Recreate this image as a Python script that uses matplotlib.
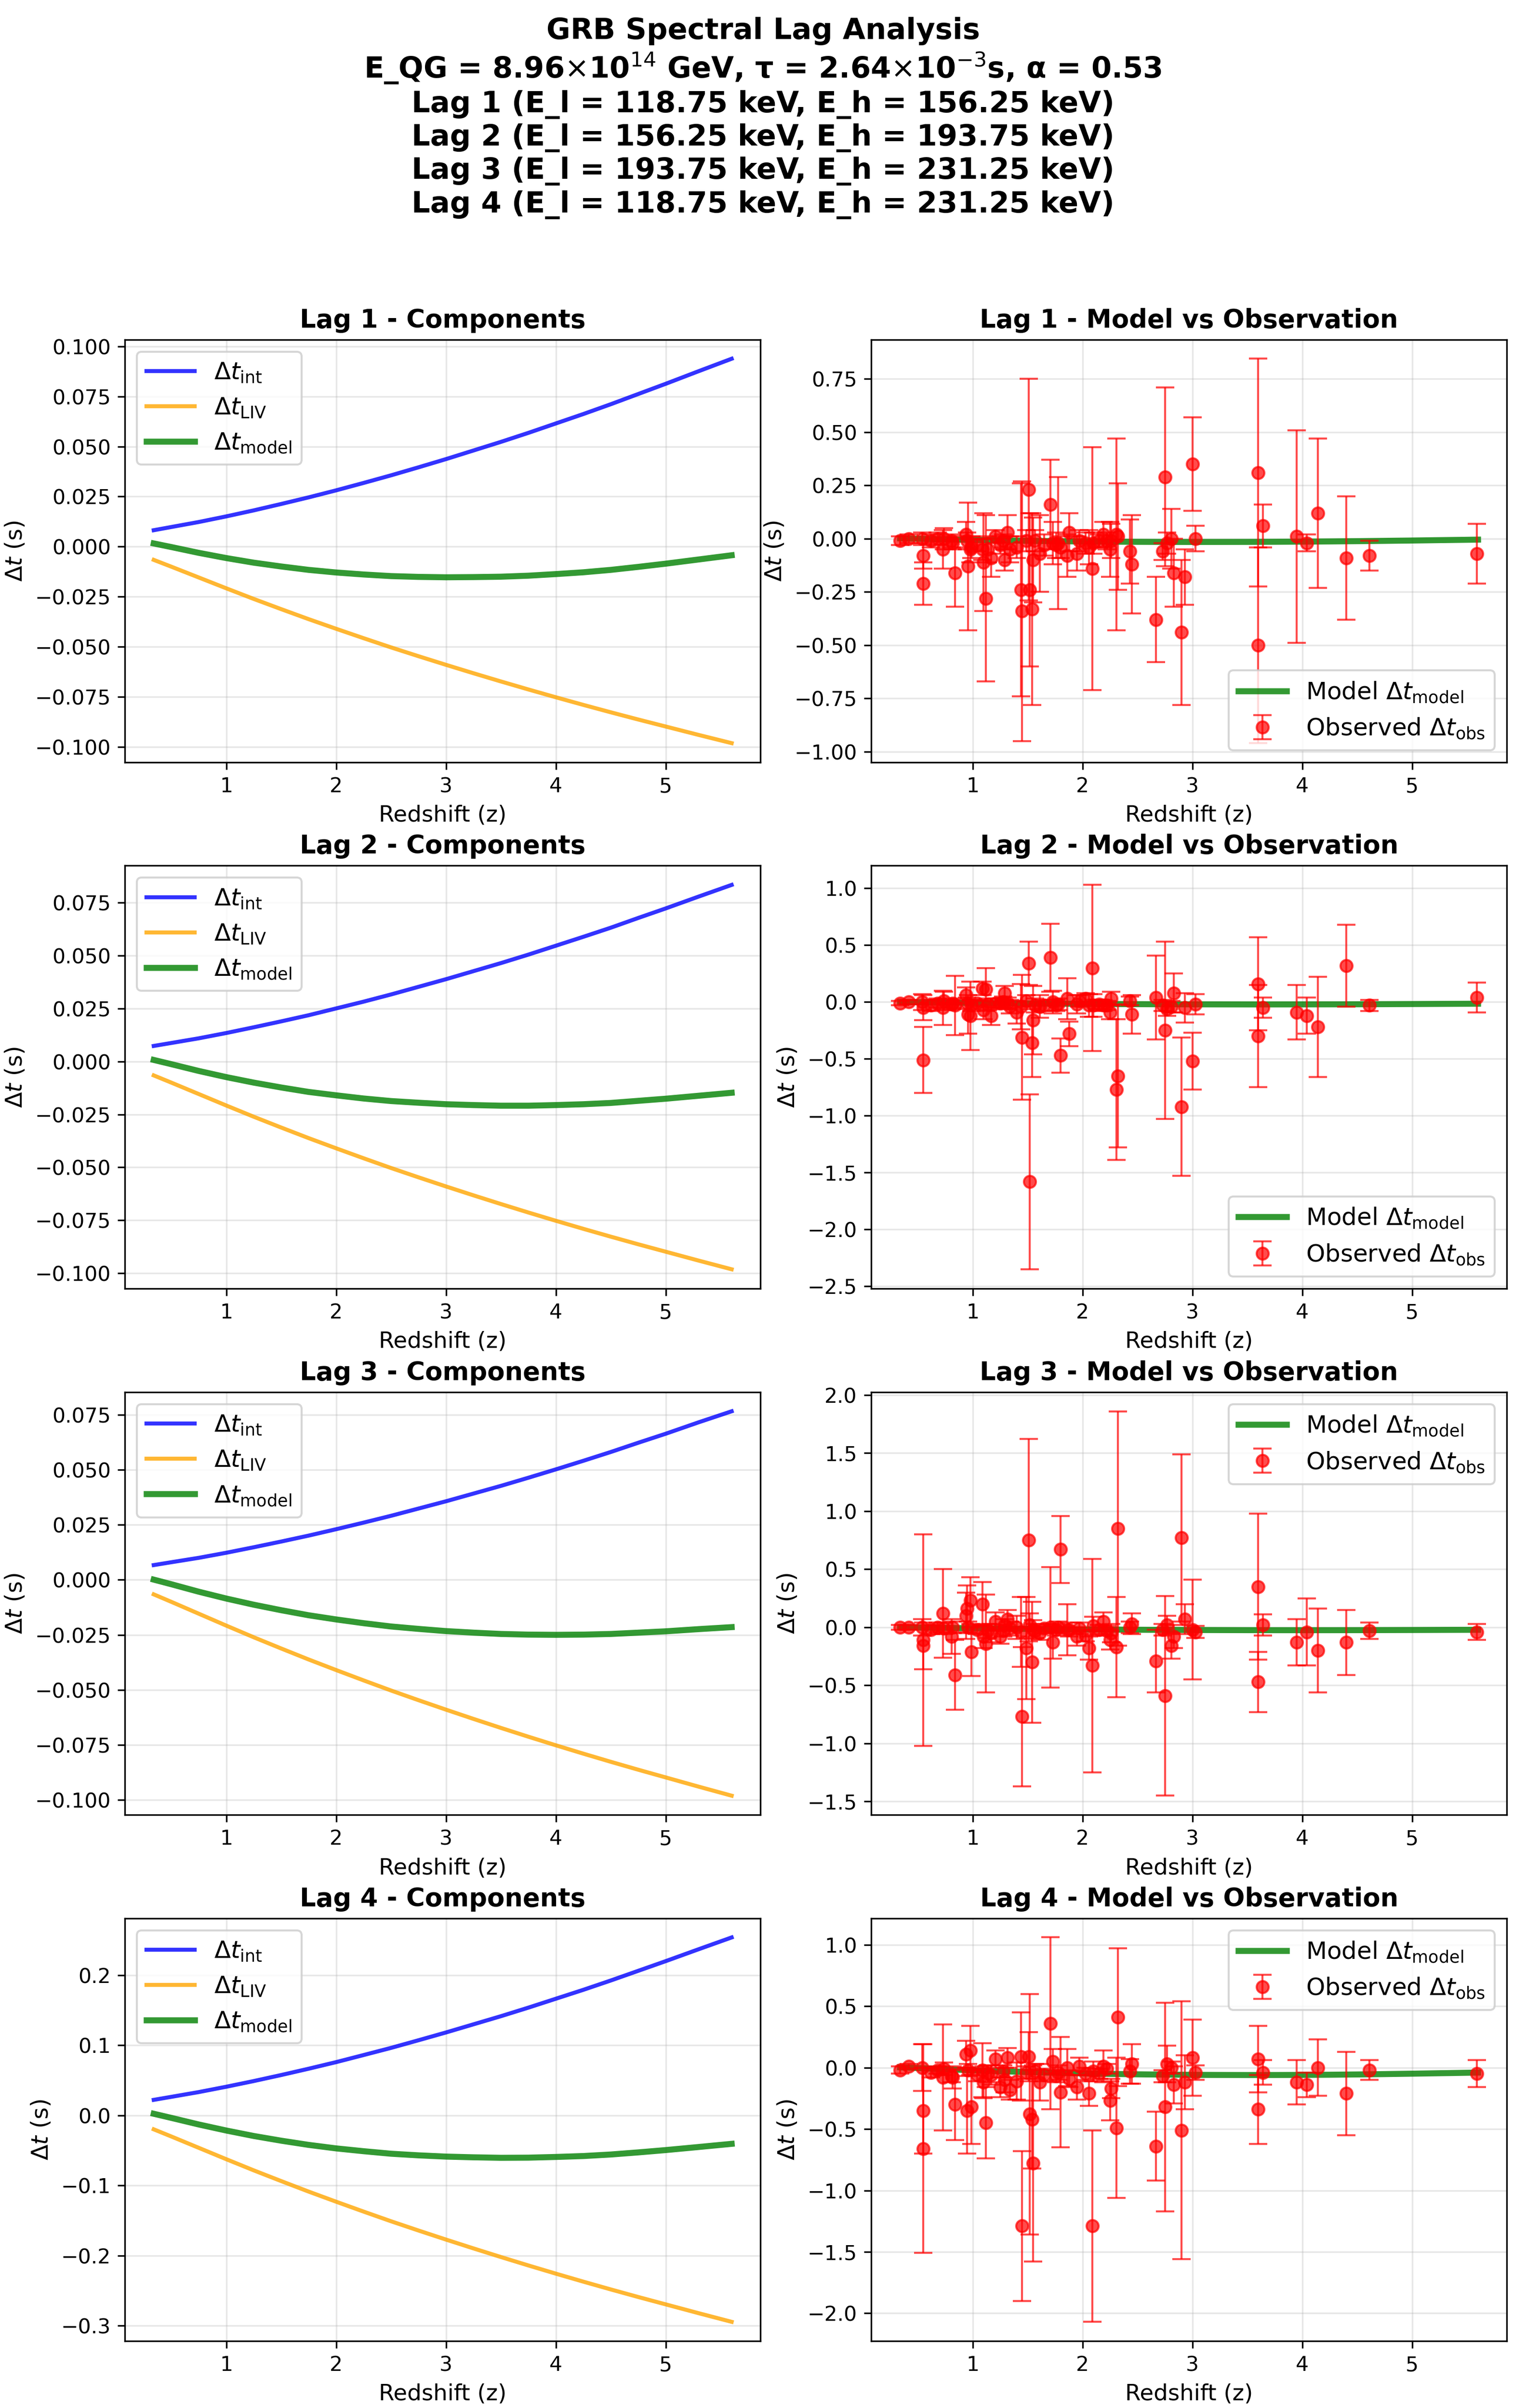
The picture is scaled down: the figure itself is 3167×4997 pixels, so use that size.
import matplotlib
matplotlib.use("Agg")
import matplotlib.pyplot as plt

# redshift grid used for the model curves
z_model = [0.34, 0.5, 0.75, 1.0, 1.25, 1.5, 1.75, 2.0, 2.25, 2.5, 2.75,
           3.0, 3.25, 3.5, 3.75, 4.0, 4.25, 4.5, 4.75, 5.0, 5.3, 5.6]

# intrinsic lag component per lag
int_lag1 = [0.0082, 0.0098, 0.0123, 0.0151, 0.0181, 0.0213, 0.0246, 0.0281, 0.0318, 0.0356, 0.0396,
            0.0437, 0.0480, 0.0523, 0.0568, 0.0615, 0.0662, 0.0711, 0.0762, 0.0813, 0.0876, 0.0938]
int_lag2 = [0.0073, 0.0087, 0.0109, 0.0134, 0.0161, 0.0189, 0.0218, 0.0250, 0.0282, 0.0316, 0.0352,
            0.0388, 0.0426, 0.0464, 0.0504, 0.0546, 0.0588, 0.0631, 0.0677, 0.0722, 0.0778, 0.0833]
int_lag3 = [0.0067, 0.0080, 0.0100, 0.0123, 0.0148, 0.0174, 0.0201, 0.0230, 0.0260, 0.0291, 0.0324,
            0.0357, 0.0392, 0.0427, 0.0464, 0.0502, 0.0541, 0.0581, 0.0623, 0.0664, 0.0716, 0.0766]
int_lag4 = [0.0222, 0.0265, 0.0333, 0.0409, 0.0490, 0.0576, 0.0666, 0.0760, 0.0861, 0.0963, 0.1072,
            0.1183, 0.1299, 0.1415, 0.1537, 0.1664, 0.1791, 0.1924, 0.2062, 0.2200, 0.2370, 0.2538]

# LIV component per lag (lags 1-3 share the same energy width)
liv_lag1 = [-0.0066, -0.0100, -0.0154, -0.0208, -0.0261, -0.0312, -0.0362, -0.0410, -0.0457, -0.0503, -0.0547,
            -0.0590, -0.0632, -0.0673, -0.0713, -0.0752, -0.0790, -0.0827, -0.0863, -0.0898, -0.0940, -0.0981]
liv_lag2 = [-0.0066, -0.0100, -0.0154, -0.0208, -0.0261, -0.0312, -0.0362, -0.0410, -0.0457, -0.0503, -0.0547,
            -0.0590, -0.0632, -0.0673, -0.0713, -0.0752, -0.0790, -0.0827, -0.0863, -0.0898, -0.0940, -0.0981]
liv_lag3 = [-0.0066, -0.0100, -0.0154, -0.0208, -0.0261, -0.0312, -0.0362, -0.0410, -0.0457, -0.0503, -0.0547,
            -0.0590, -0.0632, -0.0673, -0.0713, -0.0752, -0.0790, -0.0827, -0.0863, -0.0898, -0.0940, -0.0981]
liv_lag4 = [-0.0198, -0.0300, -0.0462, -0.0624, -0.0783, -0.0936, -0.1086, -0.1230, -0.1371, -0.1509, -0.1641,
            -0.1770, -0.1896, -0.2019, -0.2139, -0.2256, -0.2370, -0.2481, -0.2589, -0.2694, -0.2820, -0.2943]

# total model lag
model_lag1 = [0.0016, -0.0002, -0.0031, -0.0057, -0.0080, -0.0099, -0.0116, -0.0129, -0.0139, -0.0147, -0.0151,
              -0.0153, -0.0152, -0.0150, -0.0145, -0.0137, -0.0128, -0.0116, -0.0101, -0.0085, -0.0064, -0.0043]
model_lag2 = [0.0007, -0.0013, -0.0045, -0.0074, -0.0100, -0.0123, -0.0144, -0.0160, -0.0175, -0.0187, -0.0195,
              -0.0202, -0.0206, -0.0209, -0.0209, -0.0206, -0.0202, -0.0196, -0.0186, -0.0176, -0.0162, -0.0148]
model_lag3 = [0.0001, -0.0020, -0.0054, -0.0085, -0.0113, -0.0138, -0.0161, -0.0180, -0.0197, -0.0212, -0.0223,
              -0.0233, -0.0240, -0.0246, -0.0249, -0.0250, -0.0249, -0.0246, -0.0240, -0.0234, -0.0224, -0.0215]
model_lag4 = [0.0024, -0.0035, -0.0129, -0.0215, -0.0293, -0.0360, -0.0420, -0.0470, -0.0510, -0.0546, -0.0569,
              -0.0587, -0.0597, -0.0604, -0.0602, -0.0592, -0.0579, -0.0557, -0.0527, -0.0494, -0.0450, -0.0405]

# GRB redshifts (shared by all lags)
z_obs = [0.34, 0.42, 0.54, 0.55, 0.55, 0.62, 0.68, 0.73, 0.74, 0.81,
         0.82, 0.84, 0.94, 0.95, 0.96, 0.98, 0.99, 1.04, 1.09, 1.10,
         1.12, 1.14, 1.17, 1.21, 1.25, 1.28, 1.29, 1.32, 1.34, 1.40,
         1.44, 1.45, 1.49, 1.51, 1.52, 1.54, 1.55, 1.57, 1.61, 1.65,
         1.71, 1.73, 1.76, 1.78, 1.80, 1.86, 1.88, 1.95, 1.97, 2.03,
         2.06, 2.09, 2.10, 2.15, 2.19, 2.22, 2.25, 2.26, 2.31, 2.32,
         2.43, 2.45, 2.67, 2.73, 2.75, 2.77, 2.81, 2.83, 2.90, 2.93,
         3.00, 3.03, 3.60, 3.60, 3.64, 3.95, 4.04, 4.14, 4.40, 4.61, 5.59]

obs_lag1 = [-0.01, 0.00, 0.00, -0.08, -0.21, -0.01, 0.00, -0.05, 0.00, -0.01,
            -0.02, -0.16, 0.02, -0.01, -0.13, -0.05, -0.04, -0.03, -0.05, -0.11,
            -0.28, -0.05, -0.09, 0.01, -0.03, -0.01, -0.10, 0.03, -0.05, -0.04,
            -0.24, -0.34, -0.01, 0.23, -0.24, -0.33, -0.10, -0.01, -0.07, -0.03,
            0.16, -0.02, -0.03, -0.02, -0.04, -0.08, 0.03, -0.07, -0.01, -0.02,
            -0.04, -0.14, -0.02, -0.01, 0.02, -0.01, -0.05, -0.01, 0.02, 0.01,
            -0.06, -0.12, -0.38, -0.06, 0.29, -0.02, 0.00, -0.16, -0.44, -0.18,
            0.35, 0.00, 0.31, -0.50, 0.06, 0.01, -0.02, 0.12, -0.09, -0.08, -0.07]
err_lag1 = [0.02, 0.02, 0.03, 0.06, 0.10, 0.03, 0.03, 0.09, 0.05, 0.03,
            0.03, 0.16, 0.06, 0.04, 0.30, 0.06, 0.05, 0.03, 0.05, 0.23,
            0.39, 0.06, 0.09, 0.03, 0.04, 0.03, 0.05, 0.08, 0.06, 0.05,
            0.50, 0.61, 0.05, 0.52, 0.36, 0.45, 0.20, 0.05, 0.18, 0.05,
            0.21, 0.10, 0.06, 0.31, 0.05, 0.10, 0.09, 0.08, 0.05, 0.05,
            0.08, 0.57, 0.05, 0.03, 0.06, 0.04, 0.13, 0.08, 0.45, 0.25,
            0.15, 0.23, 0.20, 0.04, 0.42, 0.05, 0.14, 0.16, 0.34, 0.13,
            0.22, 0.06, 0.535, 0.46, 0.10, 0.50, 0.04, 0.35, 0.29, 0.07, 0.14]

obs_lag2 = [-0.01, 0.00, 0.00, -0.05, -0.51, -0.03, -0.01, -0.05, 0.01, -0.02,
            -0.01, -0.03, 0.06, -0.01, -0.11, -0.12, -0.03, -0.01, 0.12, -0.07,
            0.11, -0.02, -0.12, -0.01, -0.01, 0.00, 0.08, -0.01, -0.04, -0.09,
            -0.04, -0.31, 0.01, 0.34, -1.58, -0.36, -0.16, -0.03, -0.04, -0.03,
            0.39, 0.00, -0.03, -0.02, -0.47, 0.03, -0.28, -0.02, 0.01, 0.03,
            -0.03, 0.30, -0.03, -0.02, -0.03, -0.03, -0.09, 0.03, -0.77, -0.65,
            0.01, -0.11, 0.04, -0.03, -0.25, -0.06, -0.04, 0.08, -0.92, -0.05,
            -0.52, -0.02, 0.16, -0.30, -0.05, -0.09, -0.12, -0.22, 0.32, -0.03, 0.04]
err_lag2 = [0.02, 0.02, 0.07, 0.11, 0.29, 0.05, 0.04, 0.15, 0.08, 0.04,
            0.04, 0.26, 0.07, 0.05, 0.17, 0.30, 0.05, 0.03, 0.06, 0.08,
            0.19, 0.05, 0.08, 0.04, 0.04, 0.05, 0.06, 0.05, 0.06, 0.10,
            0.20, 0.55, 0.05, 0.19, 0.77, 0.30, 0.30, 0.06, 0.10, 0.05,
            0.30, 0.10, 0.05, 0.05, 0.15, 0.18, 0.11, 0.08, 0.05, 0.05,
            0.10, 0.73, 0.10, 0.04, 0.05, 0.04, 0.06, 0.06, 0.62, 0.63,
            0.04, 0.17, 0.37, 0.05, 0.78, 0.06, 0.05, 0.17, 0.61, 0.13,
            0.25, 0.09, 0.41, 0.45, 0.09, 0.24, 0.16, 0.44, 0.36, 0.05, 0.13]

obs_lag3 = [0.00, 0.00, 0.00, -0.11, -0.16, -0.02, 0.00, 0.12, -0.01, -0.08,
            0.00, -0.41, 0.10, 0.16, 0.00, 0.23, -0.21, -0.02, 0.20, -0.08,
            -0.14, -0.03, -0.05, 0.05, -0.08, -0.03, 0.02, 0.07, -0.01, 0.00,
            -0.04, -0.77, -0.18, 0.75, 0.02, -0.30, -0.02, -0.03, -0.05, -0.01,
            0.00, -0.13, -0.02, 0.00, 0.67, -0.02, -0.02, -0.08, -0.01, -0.07,
            -0.18, -0.33, 0.01, -0.02, 0.05, -0.03, -0.11, -0.05, -0.17, 0.85,
            0.00, 0.03, -0.29, -0.02, -0.59, 0.02, -0.16, -0.08, 0.77, 0.07,
            -0.02, -0.04, 0.35, -0.47, 0.02, -0.13, -0.04, -0.20, -0.13, -0.03, -0.04]
err_lag3 = [0.02, 0.02, 0.07, 0.91, 0.20, 0.04, 0.04, 0.38, 0.05, 0.15,
            0.05, 0.30, 0.20, 0.20, 0.05, 0.20, 0.21, 0.04, 0.19, 0.10,
            0.42, 0.06, 0.08, 0.08, 0.06, 0.05, 0.05, 0.08, 0.06, 0.10,
            0.30, 0.60, 0.44, 0.87, 0.10, 0.52, 0.08, 0.06, 0.06, 0.04,
            0.52, 0.14, 0.05, 0.05, 0.29, 0.22, 0.06, 0.08, 0.05, 0.05,
            0.10, 0.92, 0.08, 0.04, 0.08, 0.04, 0.08, 0.08, 0.43, 1.01,
            0.05, 0.09, 0.27, 0.05, 0.86, 0.08, 0.11, 0.10, 0.72, 0.13,
            0.43, 0.05, 0.63, 0.26, 0.09, 0.20, 0.29, 0.36, 0.28, 0.07, 0.07]

obs_lag4 = [-0.02, 0.01, 0.00, -0.35, -0.66, -0.04, -0.02, -0.08, -0.01, -0.07,
            -0.08, -0.30, 0.11, -0.35, -0.02, 0.14, -0.32, -0.06, -0.02, -0.12,
            -0.45, -0.05, -0.06, 0.07, -0.16, -0.03, -0.10, 0.08, -0.18, -0.11,
            0.09, -1.29, -0.04, 0.09, -0.38, -0.42, -0.78, -0.03, -0.12, -0.06,
            0.36, 0.05, -0.07, -0.04, -0.20, 0.00, -0.09, -0.16, 0.01, -0.05,
            -0.21, -1.29, -0.03, -0.05, 0.01, -0.01, -0.27, -0.17, -0.49, 0.41,
            -0.03, 0.03, -0.64, -0.07, -0.32, 0.03, 0.00, -0.14, -0.51, -0.12,
            0.08, -0.04, 0.07, -0.34, -0.04, -0.12, -0.14, 0.00, -0.21, -0.02, -0.05]
err_lag4 = [0.03, 0.02, 0.19, 0.35, 0.85, 0.04, 0.03, 0.43, 0.05, 0.05,
            0.09, 0.29, 0.11, 0.35, 0.05, 0.20, 0.30, 0.05, 0.22, 0.13,
            0.29, 0.07, 0.08, 0.07, 0.08, 0.05, 0.10, 0.08, 0.08, 0.15,
            0.36, 0.61, 0.05, 0.20, 0.98, 0.40, 0.80, 0.06, 0.15, 0.05,
            0.70, 0.10, 0.05, 0.06, 0.45, 0.15, 0.07, 0.10, 0.07, 0.05,
            0.10, 0.78, 0.08, 0.04, 0.13, 0.04, 0.16, 0.08, 0.57, 0.56,
            0.10, 0.16, 0.28, 0.05, 0.85, 0.15, 0.05, 0.15, 1.05, 0.22,
            0.31, 0.06, 0.27, 0.28, 0.10, 0.18, 0.10, 0.23, 0.34, 0.08, 0.11]

lag_names = ["Lag 1", "Lag 2", "Lag 3", "Lag 4"]
ints = [int_lag1, int_lag2, int_lag3, int_lag4]
livs = [liv_lag1, liv_lag2, liv_lag3, liv_lag4]
models = [model_lag1, model_lag2, model_lag3, model_lag4]
obs = [obs_lag1, obs_lag2, obs_lag3, obs_lag4]
errs = [err_lag1, err_lag2, err_lag3, err_lag4]
legend_locs = ["lower right", "lower right", "upper right", "upper right"]

title = ("GRB Spectral Lag Analysis\n"
         "E_QG = 8.96$\\times$10$^{14}$ GeV, τ = 2.64$\\times$10$^{-3}$s, α = 0.53\n"
         "Lag 1 (E_l = 118.75 keV, E_h = 156.25 keV)\n"
         "Lag 2 (E_l = 156.25 keV, E_h = 193.75 keV)\n"
         "Lag 3 (E_l = 193.75 keV, E_h = 231.25 keV)\n"
         "Lag 4 (E_l = 118.75 keV, E_h = 231.25 keV)")

W, H = 3167, 4997
fig = plt.figure(figsize=(W / 300, H / 300), dpi=300)
fig.suptitle(title, fontsize=14.6, fontweight="bold", x=0.5, y=0.993, va="top")

row_bottoms = [0.6834, 0.4649, 0.2463, 0.0278]
ax_h = 0.1756
left_x, right_x, ax_w = 0.0818, 0.5709, 0.4166

for i in range(4):
    # components
    ax1 = fig.add_axes([left_x, row_bottoms[i], ax_w, ax_h])
    ax1.plot(z_model, ints[i], color="blue", lw=2, alpha=0.8, label=r"$\Delta t_{\rm int}$")
    ax1.plot(z_model, livs[i], color="orange", lw=2, alpha=0.8, label=r"$\Delta t_{\rm LIV}$")
    ax1.plot(z_model, models[i], color="green", lw=3, alpha=0.8, label=r"$\Delta t_{\rm model}$")
    ax1.set_title(f"{lag_names[i]} - Components", fontsize=12.7, fontweight="bold")
    ax1.set_xlabel("Redshift (z)", fontsize=11.2)
    ax1.set_ylabel(r"$\Delta t$ (s)", fontsize=11.5)
    ax1.tick_params(labelsize=10.2)
    ax1.grid(True, alpha=0.3)
    ax1.legend(loc="upper left", fontsize=12)

    # model vs observation
    ax2 = fig.add_axes([right_x, row_bottoms[i], ax_w, ax_h])
    ax2.plot(z_model, models[i], color="green", lw=3, alpha=0.8, label=r"Model $\Delta t_{\rm model}$")
    ax2.errorbar(z_obs, obs[i], yerr=errs[i], fmt="o", color="red", ecolor="red",
                 alpha=0.7, markersize=6, capsize=4.5, elinewidth=1,
                 label=r"Observed $\Delta t_{\rm obs}$")
    ax2.set_title(f"{lag_names[i]} - Model vs Observation", fontsize=12.7, fontweight="bold")
    ax2.set_xlabel("Redshift (z)", fontsize=11.2)
    ax2.set_ylabel(r"$\Delta t$ (s)", fontsize=11.5)
    ax2.tick_params(labelsize=10.2)
    ax2.grid(True, alpha=0.3)
    ax2.legend(loc=legend_locs[i], fontsize=12)

fig.savefig("out.png", dpi=300)
